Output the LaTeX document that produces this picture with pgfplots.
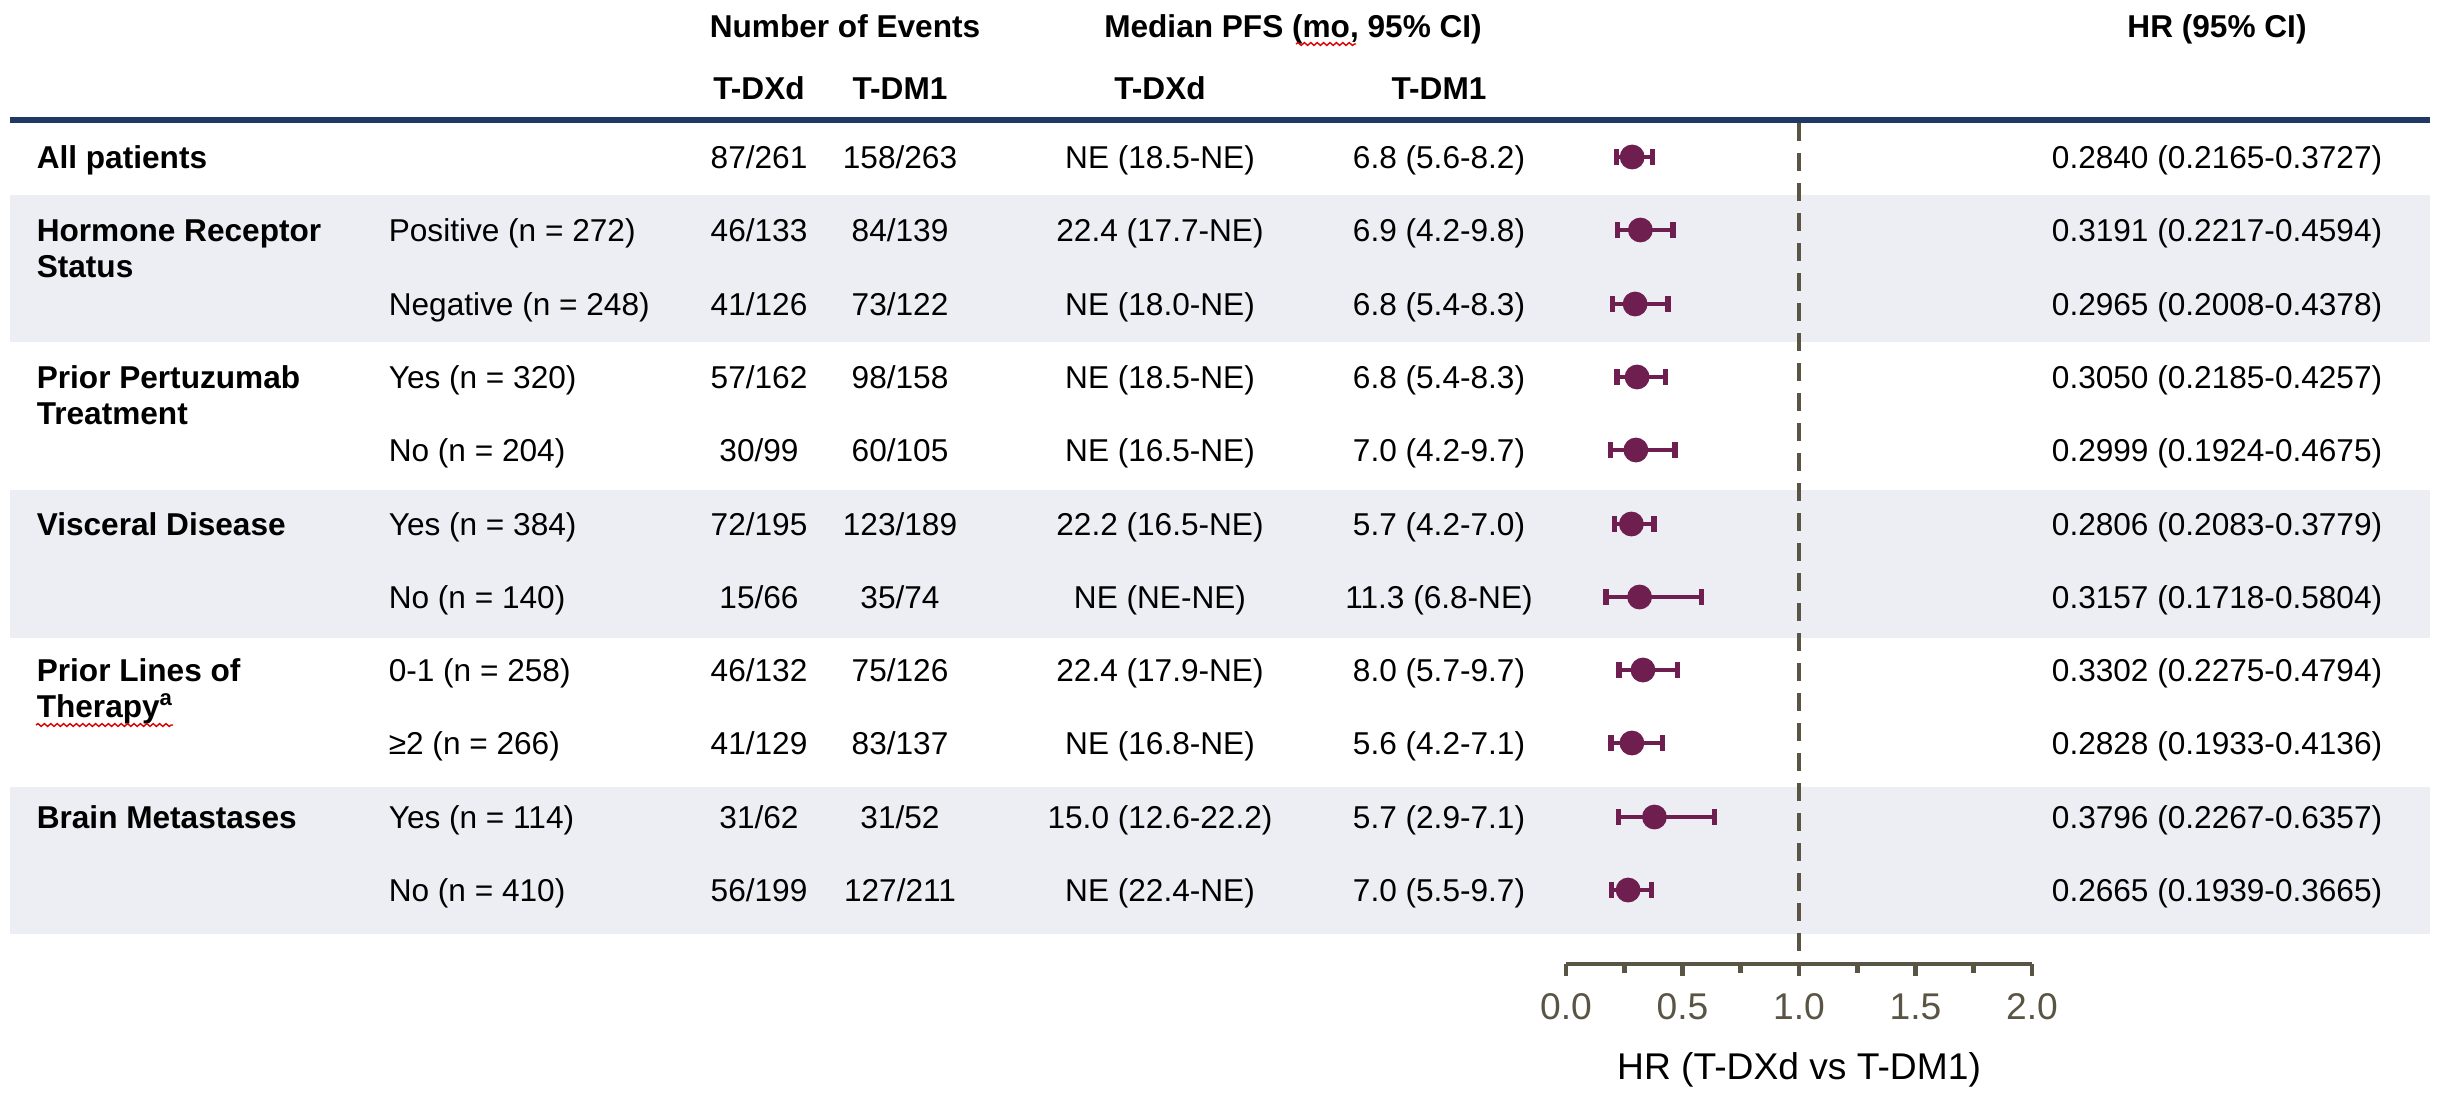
\documentclass[border=0pt]{standalone}
\usepackage{fontspec}
\setmainfont{Liberation Sans}
\usepackage{pgfplots}
\usepackage{pgfplotstable}
\pgfplotsset{compat=1.18}
\usetikzlibrary{decorations.pathmorphing}
\definecolor{navy}{HTML}{1F3864}
\definecolor{band}{HTML}{EDEEF3}
\definecolor{axc}{HTML}{595443}
\definecolor{plum}{HTML}{6E1F50}

% y = row centre (pixels from top), hr, lower and upper 95% CI
\pgfplotstableread{
y    hr     lo     hi
157  0.2840 0.2165 0.3727
230  0.3191 0.2217 0.4594
304  0.2965 0.2008 0.4378
377  0.3050 0.2185 0.4257
450  0.2999 0.1924 0.4675
524  0.2806 0.2083 0.3779
597  0.3157 0.1718 0.5804
670  0.3302 0.2275 0.4794
743  0.2828 0.1933 0.4136
817  0.3796 0.2267 0.6357
890  0.2665 0.1939 0.3665
}\hrdata

\begin{document}
\fontsize{7.9}{9.5}\selectfont
\begin{tikzpicture}
\useasboundingbox (0,0) rectangle (609.25pt,-273pt);
\begin{scope}[x=0.25pt,y=-0.25pt]
% bands
\fill[band] (10,195) rectangle (2430,342);
\fill[band] (10,490) rectangle (2430,638);
\fill[band] (10,787) rectangle (2430,934);
\draw[navy, line width=1.6pt] (10,120) -- (2430,120);
% headers
\begin{scope}[every node/.style={inner sep=0pt, anchor=base}]
\node at (845,37) {\bfseries Number of Events};
\node at (1293,37) {\bfseries Median PFS (mo, 95\% CI)};
\node at (2217,37) {\bfseries HR (95\% CI)};
\node at (759,99) {\bfseries T-DXd};
\node at (900,99) {\bfseries T-DM1};
\node at (1160,99) {\bfseries T-DXd};
\node at (1439,99) {\bfseries T-DM1};
% category labels
\node[anchor=base west] at (36,168) {\bfseries All patients};
\node[anchor=base west] at (36,241) {\bfseries Hormone Receptor};
\node[anchor=base west] at (36,277) {\bfseries Status};
\node[anchor=base west] at (36,388) {\bfseries Prior Pertuzumab};
\node[anchor=base west] at (36,424) {\bfseries Treatment};
\node[anchor=base west] at (36,535) {\bfseries Visceral Disease};
\node[anchor=base west] at (36,681) {\bfseries Prior Lines of};
\node[anchor=base west] at (36,717) {\bfseries Therapy\textsuperscript{a}};
\node[anchor=base west] at (36,828) {\bfseries Brain Metastases};
% subgroup labels
\node[anchor=base west] at (388,241) {Positive (n = 272)};
\node[anchor=base west] at (388,315) {Negative (n = 248)};
\node[anchor=base west] at (388,388) {Yes (n = 320)};
\node[anchor=base west] at (388,461) {No (n = 204)};
\node[anchor=base west] at (388,535) {Yes (n = 384)};
\node[anchor=base west] at (388,608) {No (n = 140)};
\node[anchor=base west] at (388,681) {0-1 (n = 258)};
\node[anchor=base west] at (388,754) {≥2 (n = 266)};
\node[anchor=base west] at (388,828) {Yes (n = 114)};
\node[anchor=base west] at (388,901) {No (n = 410)};
% events
\foreach \yy/\a/\b in {168/87\slash261/158\slash263, 241/46\slash133/84\slash139, 315/41\slash126/73\slash122, 388/57\slash162/98\slash158, 461/30\slash99/60\slash105, 535/72\slash195/123\slash189, 608/15\slash66/35\slash74, 681/46\slash132/75\slash126, 754/41\slash129/83\slash137, 828/31\slash62/31\slash52, 901/56\slash199/127\slash211}{
  \node at (759,\yy) {\a};
  \node at (900,\yy) {\b};
}
% median PFS
\foreach \yy/\a/\b in {168/NE (18.5-NE)/6.8 (5.6-8.2), 241/22.4 (17.7-NE)/6.9 (4.2-9.8), 315/NE (18.0-NE)/6.8 (5.4-8.3), 388/NE (18.5-NE)/6.8 (5.4-8.3), 461/NE (16.5-NE)/7.0 (4.2-9.7), 535/22.2 (16.5-NE)/5.7 (4.2-7.0), 608/NE (NE-NE)/11.3 (6.8-NE), 681/22.4 (17.9-NE)/8.0 (5.7-9.7), 754/NE (16.8-NE)/5.6 (4.2-7.1), 828/15.0 (12.6-22.2)/5.7 (2.9-7.1), 901/NE (22.4-NE)/7.0 (5.5-9.7)}{
  \node at (1160,\yy) {\a};
  \node at (1439,\yy) {\b};
}
% HR text
\foreach \yy/\a in {168/0.2840 (0.2165-0.3727), 241/0.3191 (0.2217-0.4594), 315/0.2965 (0.2008-0.4378), 388/0.3050 (0.2185-0.4257), 461/0.2999 (0.1924-0.4675), 535/0.2806 (0.2083-0.3779), 608/0.3157 (0.1718-0.5804), 681/0.3302 (0.2275-0.4794), 754/0.2828 (0.1933-0.4136), 828/0.3796 (0.2267-0.6357), 901/0.2665 (0.1939-0.3665)}{
  \node[anchor=base east] at (2383,\yy) {\a};
}
\end{scope}
% spell-check squiggles
\draw[red!85!black, line width=0.35pt, decorate, decoration={snake, amplitude=0.35pt, segment length=1.6pt}] (1296,44) -- (1356,44);
\draw[red!85!black, line width=0.35pt, decorate, decoration={snake, amplitude=0.35pt, segment length=1.6pt}] (36,725) -- (173,725);
\end{scope}

\begin{axis}[
  at={(391.5pt,-241pt)}, anchor=south west,
  scale only axis, width=116.5pt, height=211pt,
  xmin=0, xmax=2, ymin=-964, ymax=-120,
  axis x line*=bottom, axis y line=none,
  xtick={0,0.5,1,1.5,2}, minor xtick={0.25,0.75,1.25,1.75},
  xticklabels={0.0,0.5,1.0,1.5,2.0},
  tick align=outside, major tick length=2.9pt, minor tick length=2.2pt,
  every tick/.style={axc, line width=1.2pt},
  x axis line style={axc, line width=1.1pt},
  xticklabel style={font=\fontsize{9.3}{11}\selectfont, text=axc, yshift=-1.7pt},
  xlabel={HR (T-DXd vs T-DM1)},
  every axis x label/.style={at={(axis description cs:0.5,0)}, anchor=center, yshift=-26.5pt, font=\fontsize{9.3}{11}\selectfont},
  clip=false,
]
\addplot[axc, line width=1.1pt, dash pattern=on 4.5pt off 3pt] coordinates {(1,-123) (1,-964)};
\addplot[plum, only marks, mark=*, mark size=2.9pt, mark options={plum, fill=plum},
  error bars/.cd, x dir=both, x explicit,
  error mark=|,
  error bar style={line width=1pt, plum},
  error mark options={plum, line width=1.3pt, mark size=1.9pt}]
  table[x=hr, y expr=-\thisrow{y},
        x error plus expr=\thisrow{hi}-\thisrow{hr},
        x error minus expr=\thisrow{hr}-\thisrow{lo}] {\hrdata};
\end{axis}
\end{tikzpicture}
\end{document}
